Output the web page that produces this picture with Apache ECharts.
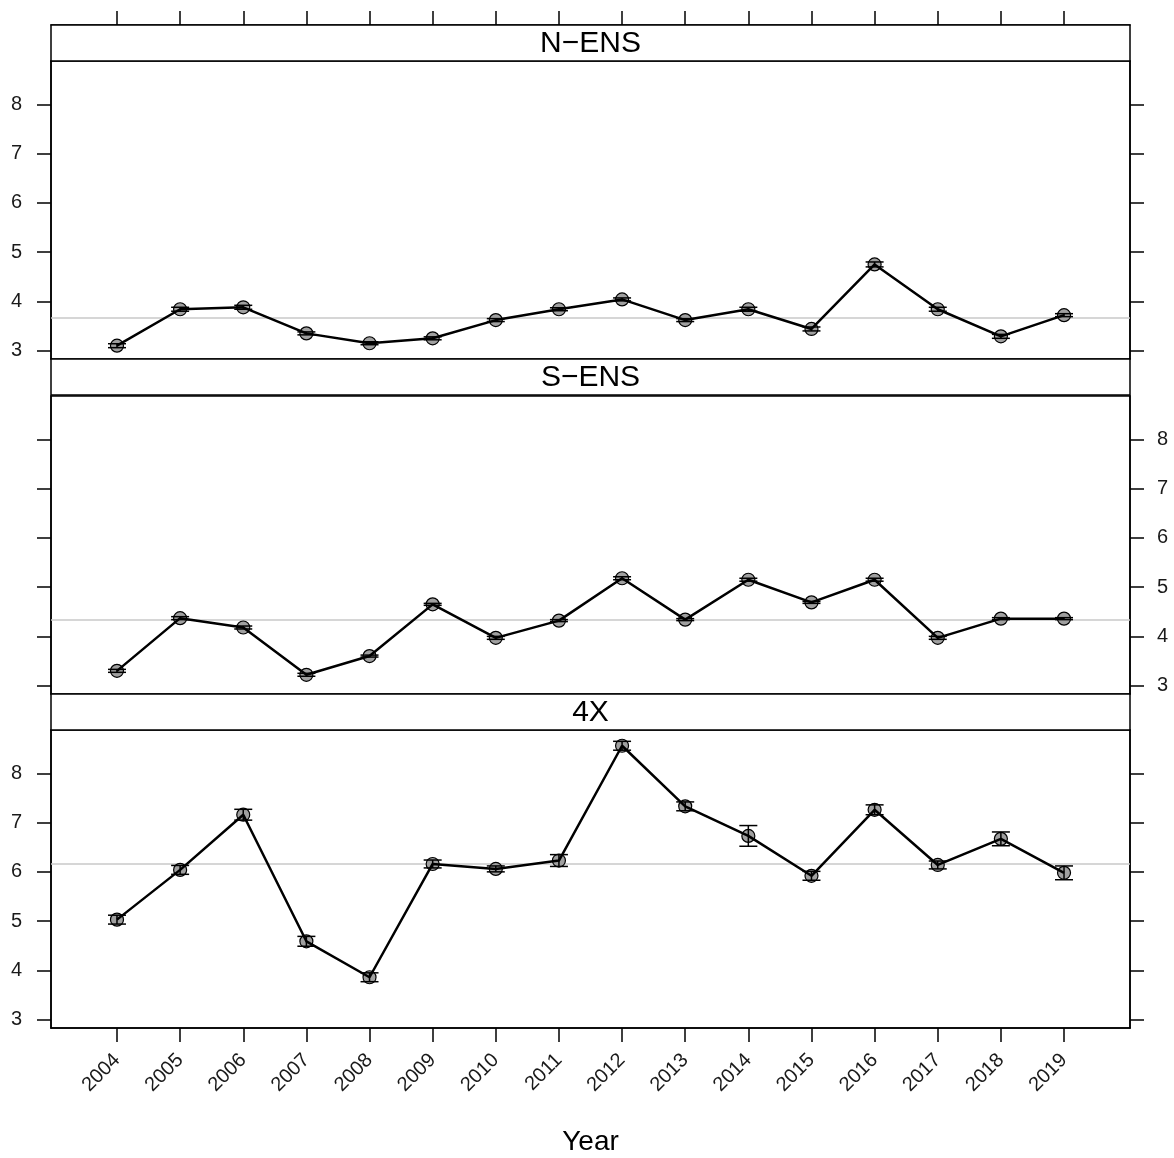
<!DOCTYPE html>
<html>
<head>
<meta charset="utf-8">
<script src="https://cdn.jsdelivr.net/npm/echarts@6/dist/echarts.min.js"></script>
<style>
html,body{margin:0;padding:0;background:#fff;}
#chart{width:1174px;height:1158px;}
</style>
</head>
<body>
<div id="chart"></div>
<script>
// ---- data ----
const years = [2004, 2005, 2006, 2007, 2008, 2009, 2010, 2011, 2012, 2013, 2014, 2015, 2016, 2017, 2018, 2019];
const panelNames = ['N\u2212ENS', 'S\u2212ENS', '4X'];
const yTicks = [3, 4, 5, 6, 7, 8];

const nEns = [3.10, 3.84, 3.88, 3.35, 3.15, 3.25, 3.62, 3.84, 4.04, 3.62, 3.84, 3.44, 4.75, 3.84, 3.29, 3.72];
const nEnsErr = [0.04, 0.04, 0.04, 0.03, 0.03, 0.03, 0.03, 0.03, 0.03, 0.03, 0.04, 0.04, 0.05, 0.04, 0.04, 0.03];
const nEnsMean = 3.67;

const sEns = [3.30, 4.37, 4.18, 3.22, 3.60, 4.65, 3.97, 4.32, 5.18, 4.34, 5.15, 4.69, 5.15, 3.97, 4.36, 4.36];
const sEnsErr = [0.03, 0.03, 0.03, 0.03, 0.02, 0.02, 0.03, 0.02, 0.03, 0.02, 0.03, 0.02, 0.03, 0.03, 0.02, 0.02];
const sEnsMean = 4.34;

const fourX = [5.03, 6.04, 7.16, 4.59, 3.86, 6.16, 6.06, 6.23, 8.56, 7.33, 6.73, 5.92, 7.26, 6.14, 6.67, 5.98];
const fourXErr = [0.09, 0.09, 0.11, 0.10, 0.09, 0.08, 0.06, 0.12, 0.09, 0.09, 0.21, 0.09, 0.10, 0.08, 0.14, 0.14];
const fourXMean = 6.16;

// ---- layout ----
const L = 51, R = 1130, W = R - L;
const stripH = 36;
const panels = [
  {name: panelNames[0], vals: nEns, err: nEnsErr, mean: nEnsMean, stripTop: 25, plotTop: 61, labelSide: 'left'},
  {name: panelNames[1], vals: sEns, err: sEnsErr, mean: sEnsMean, stripTop: 359, plotTop: 396, labelSide: 'right'},
  {name: panelNames[2], vals: fourX, err: fourXErr, mean: fourXMean, stripTop: 694, plotTop: 730, labelSide: 'left'}
];
const plotH = 298;
const FONT = '"Liberation Sans", Arial, Helvetica, sans-serif';
const TXT = '#1a1a1a';
const XMIN = 2002.955, XMAX = 2020.045, YMIN = 2.83, YMAX = 8.88;

const grids = [], xAxes = [], yAxes = [], series = [], graphics = [];

panels.forEach((p, i) => {
  grids.push({left: L, right: 1174 - R, top: p.plotTop, height: plotH,
    show: true, borderColor: '#000', borderWidth: 1.5, backgroundColor: '#fff'});

  const xa = {type: 'value', gridIndex: i, min: XMIN, max: XMAX,
    splitLine: {show: false},
    axisLine: {show: false},
    axisTick: {show: false},
    axisLabel: {show: false}};
  if (i === 0) {
    Object.assign(xa, {position: 'top', offset: stripH,
      axisLine: {show: true, lineStyle: {color: '#000', width: 1.5}},
      axisTick: {show: true, inside: false, length: 14, lineStyle: {color: '#000', width: 1.5}, customValues: years},
      axisLabel: {show: false, customValues: years}});
  }
  if (i === 2) {
    Object.assign(xa, {position: 'bottom',
      axisLine: {show: true, lineStyle: {color: '#000', width: 1.5}},
      axisTick: {show: true, inside: false, length: 14, lineStyle: {color: '#000', width: 1.5}, customValues: years},
      axisLabel: {show: true, rotate: 45, margin: 29, fontSize: 20, color: TXT, fontFamily: FONT,
        customValues: years, formatter: v => String(v)},
      name: 'Year', nameLocation: 'middle', nameGap: 100,
      nameTextStyle: {fontSize: 28, color: '#000', fontFamily: FONT}});
  }
  xAxes.push(xa);

  ['left', 'right'].forEach(side => {
    yAxes.push({type: 'value', gridIndex: i, position: side, min: YMIN, max: YMAX,
      splitLine: {show: false},
      axisLine: {show: true, lineStyle: {color: '#000', width: 1.5}},
      axisTick: {show: true, inside: false, length: 14, lineStyle: {color: '#000', width: 1.5}, customValues: yTicks},
      axisLabel: {show: side === p.labelSide, margin: side === 'left' ? 29 : 27, fontSize: 20, color: TXT,
        fontFamily: FONT, customValues: yTicks, formatter: v => String(v)}});
  });

  const yi = i * 2;
  const pts = years.map((y, k) => [y, p.vals[k]]);
  const errData = years.map((y, k) => [y, p.vals[k] - p.err[k], p.vals[k] + p.err[k]]);

  series.push({type: 'scatter', xAxisIndex: i, yAxisIndex: yi, data: pts,
    symbol: 'circle', symbolSize: 13, z: 3,
    itemStyle: {color: '#a0a0a0', borderColor: '#000', borderWidth: 1.2, opacity: 1}});
  series.push({type: 'line', xAxisIndex: i, yAxisIndex: yi, data: pts, showSymbol: false, z: 4,
    lineStyle: {color: '#000', width: 2.5},
    markLine: {silent: true, symbol: 'none', label: {show: false}, z: 1,
      lineStyle: {color: '#c8c8c8', width: 1.5, type: 'solid'},
      data: [{yAxis: p.mean}]}});
  series.push({type: 'custom', xAxisIndex: i, yAxisIndex: yi, data: errData, z: 5,
    encode: {x: 0, y: [1, 2]},
    renderItem: (params, api) => {
      const x = api.value(0);
      const a = api.coord([x, api.value(1)]);
      const b = api.coord([x, api.value(2)]);
      const w = 9;
      const st = {stroke: '#000', lineWidth: 1.5};
      return {type: 'group', children: [
        {type: 'line', shape: {x1: a[0], y1: a[1], x2: b[0], y2: b[1]}, style: st},
        {type: 'line', shape: {x1: a[0] - w, y1: a[1], x2: a[0] + w, y2: a[1]}, style: st},
        {type: 'line', shape: {x1: b[0] - w, y1: b[1], x2: b[0] + w, y2: b[1]}, style: st}
      ]};
    }});

  graphics.push({type: 'rect', shape: {x: L, y: p.stripTop, width: W, height: stripH},
    style: {fill: '#fff', stroke: '#000', lineWidth: 1.5}, z: 10});
  graphics.push({type: 'text', x: L + W / 2, y: p.stripTop + stripH / 2 + 1, z: 11,
    style: {text: p.name, font: '30px ' + FONT, fill: '#000', textAlign: 'center', textVerticalAlign: 'middle'}});
});

const chart = echarts.init(document.getElementById('chart'), null, {renderer: 'canvas'});
chart.setOption({
  animation: false,
  backgroundColor: '#fff',
  grid: grids,
  xAxis: xAxes,
  yAxis: yAxes,
  series: series,
  graphic: graphics
});
</script>
</body>
</html>
